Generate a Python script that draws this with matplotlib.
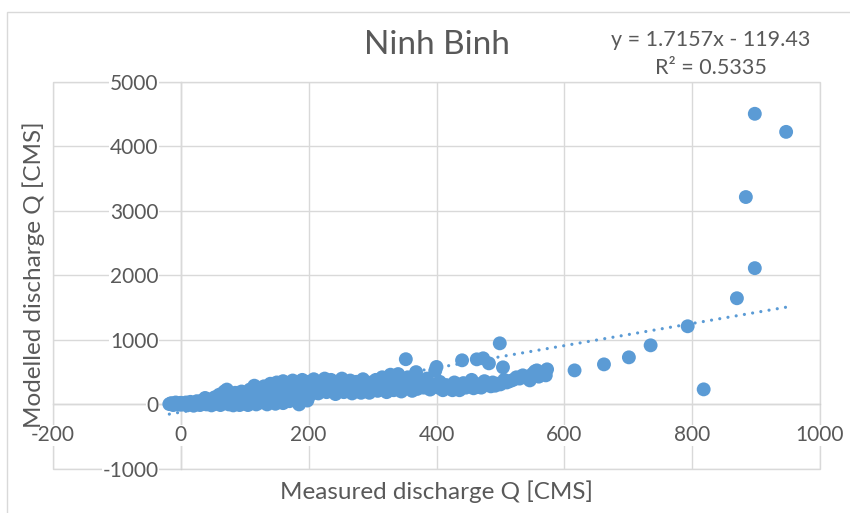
import matplotlib
matplotlib.use("Agg")
import matplotlib.pyplot as plt
from matplotlib.patches import Rectangle

plt.rcParams['font.family'] = ['Lato', 'DejaVu Sans']
plt.rcParams['axes.unicode_minus'] = False

# Measured vs modelled discharge [CMS]
measured = [
    -18, -15, -12, -10, -8, -5, -3, 0, 0, 2,
    5, 8, 10, 12, 15, 18, 20, 22, 25, 28, 30, 33, 35, 38, 40, 42, 45, 48, 50, 50,
    53, 55, 58, 60, 62, 65, 68, 70, 72, 75, 78, 80, 82, 85, 88, 90, 92, 95, 98, 100,
    102, 105, 108, 110, 112, 115, 118, 118, 120,
    123, 125, 128, 130, 133, 135, 138, 140, 143, 145, 148, 150, 152, 155, 157, 160,
    160, 163, 165, 168, 170, 172, 175, 178, 180, 182, 185, 187, 190, 192, 195, 198,
    200, 200,
    203, 205, 208, 212, 215, 218, 222, 225, 228, 232, 235, 238, 242, 245, 248, 252,
    255, 258, 262, 265, 268, 272, 275, 278, 282, 285, 288, 292, 295, 298, 302, 305,
    308, 312, 315, 318, 322, 325, 328, 330, 333, 336, 340, 342, 345, 348,
    352, 352, 355, 358, 362, 365, 368, 370, 375, 380, 385, 390, 395, 400, 398, 403,
    405, 410, 415, 420, 425, 428, 432, 436, 440, 442, 446, 450, 455, 458, 462, 463,
    466, 470, 473, 475, 478, 482, 485, 488, 492, 496, 499, 500, 504, 506, 510, 515,
    520, 525, 530, 535, 540, 546, 550, 554, 557, 560, 571, 573,
    616, 662, 701, 735, 793, 818, 870, 884, 898, 898, 947,
]
modelled = [
    5, 20, -10, 10, 30, 0, 15, -5, 25, 10,
    0, 30, -15, 15, 40, 0, -20, 25, 50, 10, -10, 60, 30, 100, 0, 70, 20, -15, 90, 40,
    110, 10, 60, 150, -10, 120, 200, 40, 230, 0, 150, 90, -15, 180, 60, 120, -10, 200, 20, 150,
    80, -10, 230, 40, 170, 290, 260, 0, 100,
    200, 30, 150, 280, 60, 0, 220, 320, 120, 260, 10, 340, 180, 80, 290, 20,
    360, 230, 140, 320, 50, 260, 370, 170, 100, 320, 0, 240, 380, 150, 300, 60,
    350, 200,
    150, 280, 390, 230, 170, 340, 270, 400, 190, 310, 380, 220, 160, 350, 260, 400,
    190, 300, 220, 370, 170, 280, 350, 240, 180, 390, 300, 210, 180, 340, 260, 380,
    210, 300, 420, 240, 190, 350, 460, 280, 220, 400, 470, 300, 200, 360,
    700, 250, 420, 300, 210, 360, 500, 240, 320, 260, 400, 230, 300, 580, 520, 260,
    350, 220, 300, 260, 220, 340, 280, 220, 683, 330, 260, 300, 380, 250, 320, 698,
    270, 260, 714, 360, 300, 636, 280, 340, 290, 320, 946, 310, 574, 380, 340, 360,
    380, 420, 400, 450, 420, 372, 470, 512, 527, 430, 450, 543,
    527, 620, 729, 915, 1210, 233, 1644, 3211, 4500, 2110, 4220,
]

# Linear trendline fitted in the spreadsheet
slope = 1.7157
intercept = -119.43
r_squared = 0.5335

x_ticks = [-200, 0, 200, 400, 600, 800, 1000]
y_ticks = [-1000, 0, 1000, 2000, 3000, 4000, 5000]

blue = '#5B9BD5'
grid_col = '#D9D9D9'
text_col = '#595959'

W, H = 850, 513
fig = plt.figure(figsize=(W / 100, H / 100), dpi=100)

# chart frame
fig.patches.append(Rectangle((6.5 / W, -0.1), 1.2, 1 - 12 / H + 0.1,
                             transform=fig.transFigure, fill=False,
                             edgecolor=grid_col, linewidth=1.0, zorder=0))

left, right, top, bottom = 53, 820, 81.5, 469
ax = fig.add_axes([left / W, 1 - bottom / H, (right - left) / W, (bottom - top) / H])

ax.set_xlim(x_ticks[0], x_ticks[-1])
ax.set_ylim(y_ticks[0], y_ticks[-1])
ax.set_xticks(x_ticks)
ax.set_yticks(y_ticks)
ax.grid(True, color=grid_col, linewidth=1.0, zorder=0)
ax.set_axisbelow(True)

for side in ['top', 'right']:
    ax.spines[side].set_visible(False)
ax.spines['left'].set_position(('data', 0))
ax.spines['bottom'].set_position(('data', 0))
for side in ['left', 'bottom']:
    ax.spines[side].set_color('#CFCFCF')
    ax.spines[side].set_linewidth(1.0)
    ax.spines[side].set_zorder(0.5)

# outer plot-area box drawn as gridlines
ax.add_patch(Rectangle((0, 0), 1, 1, transform=ax.transAxes, fill=False,
                       edgecolor=grid_col, linewidth=1.0, zorder=0.4, clip_on=False))

ax.tick_params(axis='both', length=0, labelsize=15, labelcolor=text_col)
ax.tick_params(axis='y', pad=16)
ax.tick_params(axis='x', pad=15)
for lbl in ax.get_xticklabels() + ax.get_yticklabels():
    lbl.set_bbox(dict(facecolor='white', edgecolor='none', pad=0.5))

ax.scatter(measured, modelled, s=100, color=blue, edgecolors='none', zorder=3,
           clip_on=False)

x0, x1 = min(measured), max(measured)
ax.plot([x0, x1], [slope * x0 + intercept, slope * x1 + intercept],
        color=blue, linewidth=2.3, linestyle=(0, (0.01, 2.6)),
        dash_capstyle='round', zorder=4)

fig.text(437 / W, 1 - 45 / H, 'Ninh Binh', ha='center', va='center',
         fontsize=24, color=text_col)
fig.text(711 / W, 1 - 40 / H, f'y = {slope}x - {abs(intercept)}', ha='center',
         va='center', fontsize=15.5, color=text_col)
fig.text(711 / W, 1 - 68 / H, f'R² = {r_squared}', ha='center', va='center',
         fontsize=15.5, color=text_col)
fig.text(436 / W, 1 - 492 / H, 'Measured discharge Q [CMS]', ha='center',
         va='center', fontsize=17.5, color=text_col)
fig.text(34 / W, 1 - 275 / H, 'Modelled discharge Q [CMS]', ha='center',
         va='center', rotation=90, fontsize=17.5, color=text_col)

fig.savefig('out.png', dpi=100)
